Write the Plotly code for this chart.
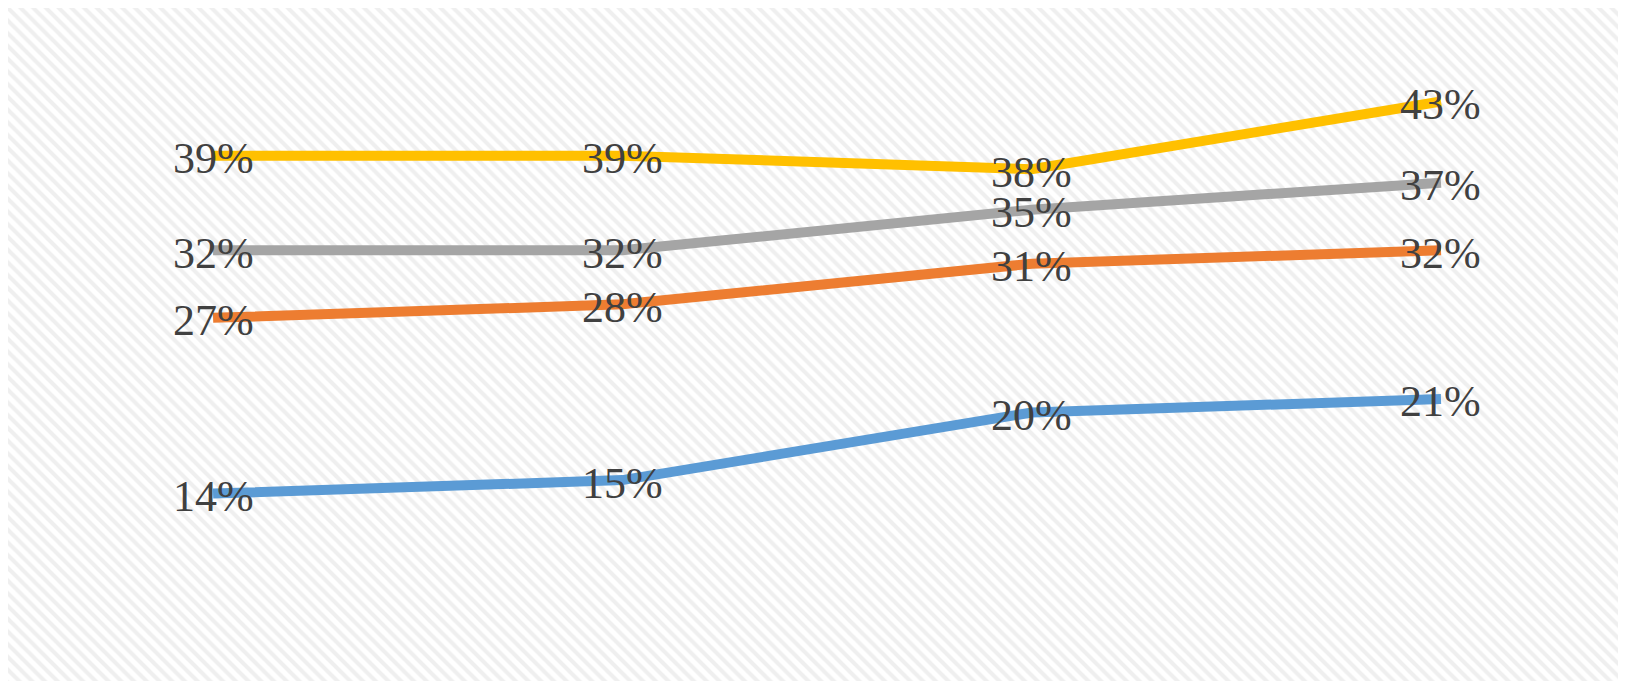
import plotly.graph_objects as go

categories = ["1", "2", "3", "4"]
series_blue = [14, 15, 20, 21]
series_orange = [27, 28, 31, 32]
series_gray = [32, 32, 35, 37]
series_yellow = [39, 39, 38, 43]

series = [
    ("blue", series_blue, "#5B9BD5"),
    ("orange", series_orange, "#ED7D31"),
    ("gray", series_gray, "#A5A5A5"),
    ("yellow", series_yellow, "#FFC000"),
]

fig = go.Figure()

# hatched chart-area background
fig.add_trace(go.Scatter(
    x=[0, 1, 1, 0, 0], y=[0, 0, 1, 1, 0], xaxis="x", yaxis="y",
    mode="lines", line=dict(width=0), fill="toself",
    fillcolor="white",
    fillpattern=dict(shape="\\", size=9, solidity=0.45, fgcolor="#e0e0e0", bgcolor="white"),
    hoverinfo="skip", showlegend=False,
))

annotations = []
for name, vals, color in series:
    fig.add_trace(go.Scatter(
        x=categories, y=vals, xaxis="x2", yaxis="y2", mode="lines",
        line=dict(color=color, width=10), name=name, showlegend=False,
    ))
for name, vals, color in series:
    for i, v in enumerate(vals):
        annotations.append(dict(
            x=i, y=v, xref="x2", yref="y2", text=f"{v}%", showarrow=False,
            font=dict(family="Liberation Serif", size=44, color="#404040"),
            yshift=-3,
        ))

fig.update_layout(
    width=1618, height=673,
    margin=dict(l=0, r=0, t=0, b=0),
    paper_bgcolor="white", plot_bgcolor="rgba(0,0,0,0)",
    showlegend=False,
    xaxis=dict(domain=[0, 1], range=[0, 1], visible=False, fixedrange=True),
    yaxis=dict(domain=[0, 1], range=[0, 1], visible=False, fixedrange=True),
    xaxis2=dict(domain=[0, 1], range=[-0.501, 3.452], type="category", visible=False, anchor="y2"),
    yaxis2=dict(domain=[0, 1], range=[0.14, 49.92], visible=False, anchor="x2"),
    annotations=annotations,
)

fig.write_html("out.html")
